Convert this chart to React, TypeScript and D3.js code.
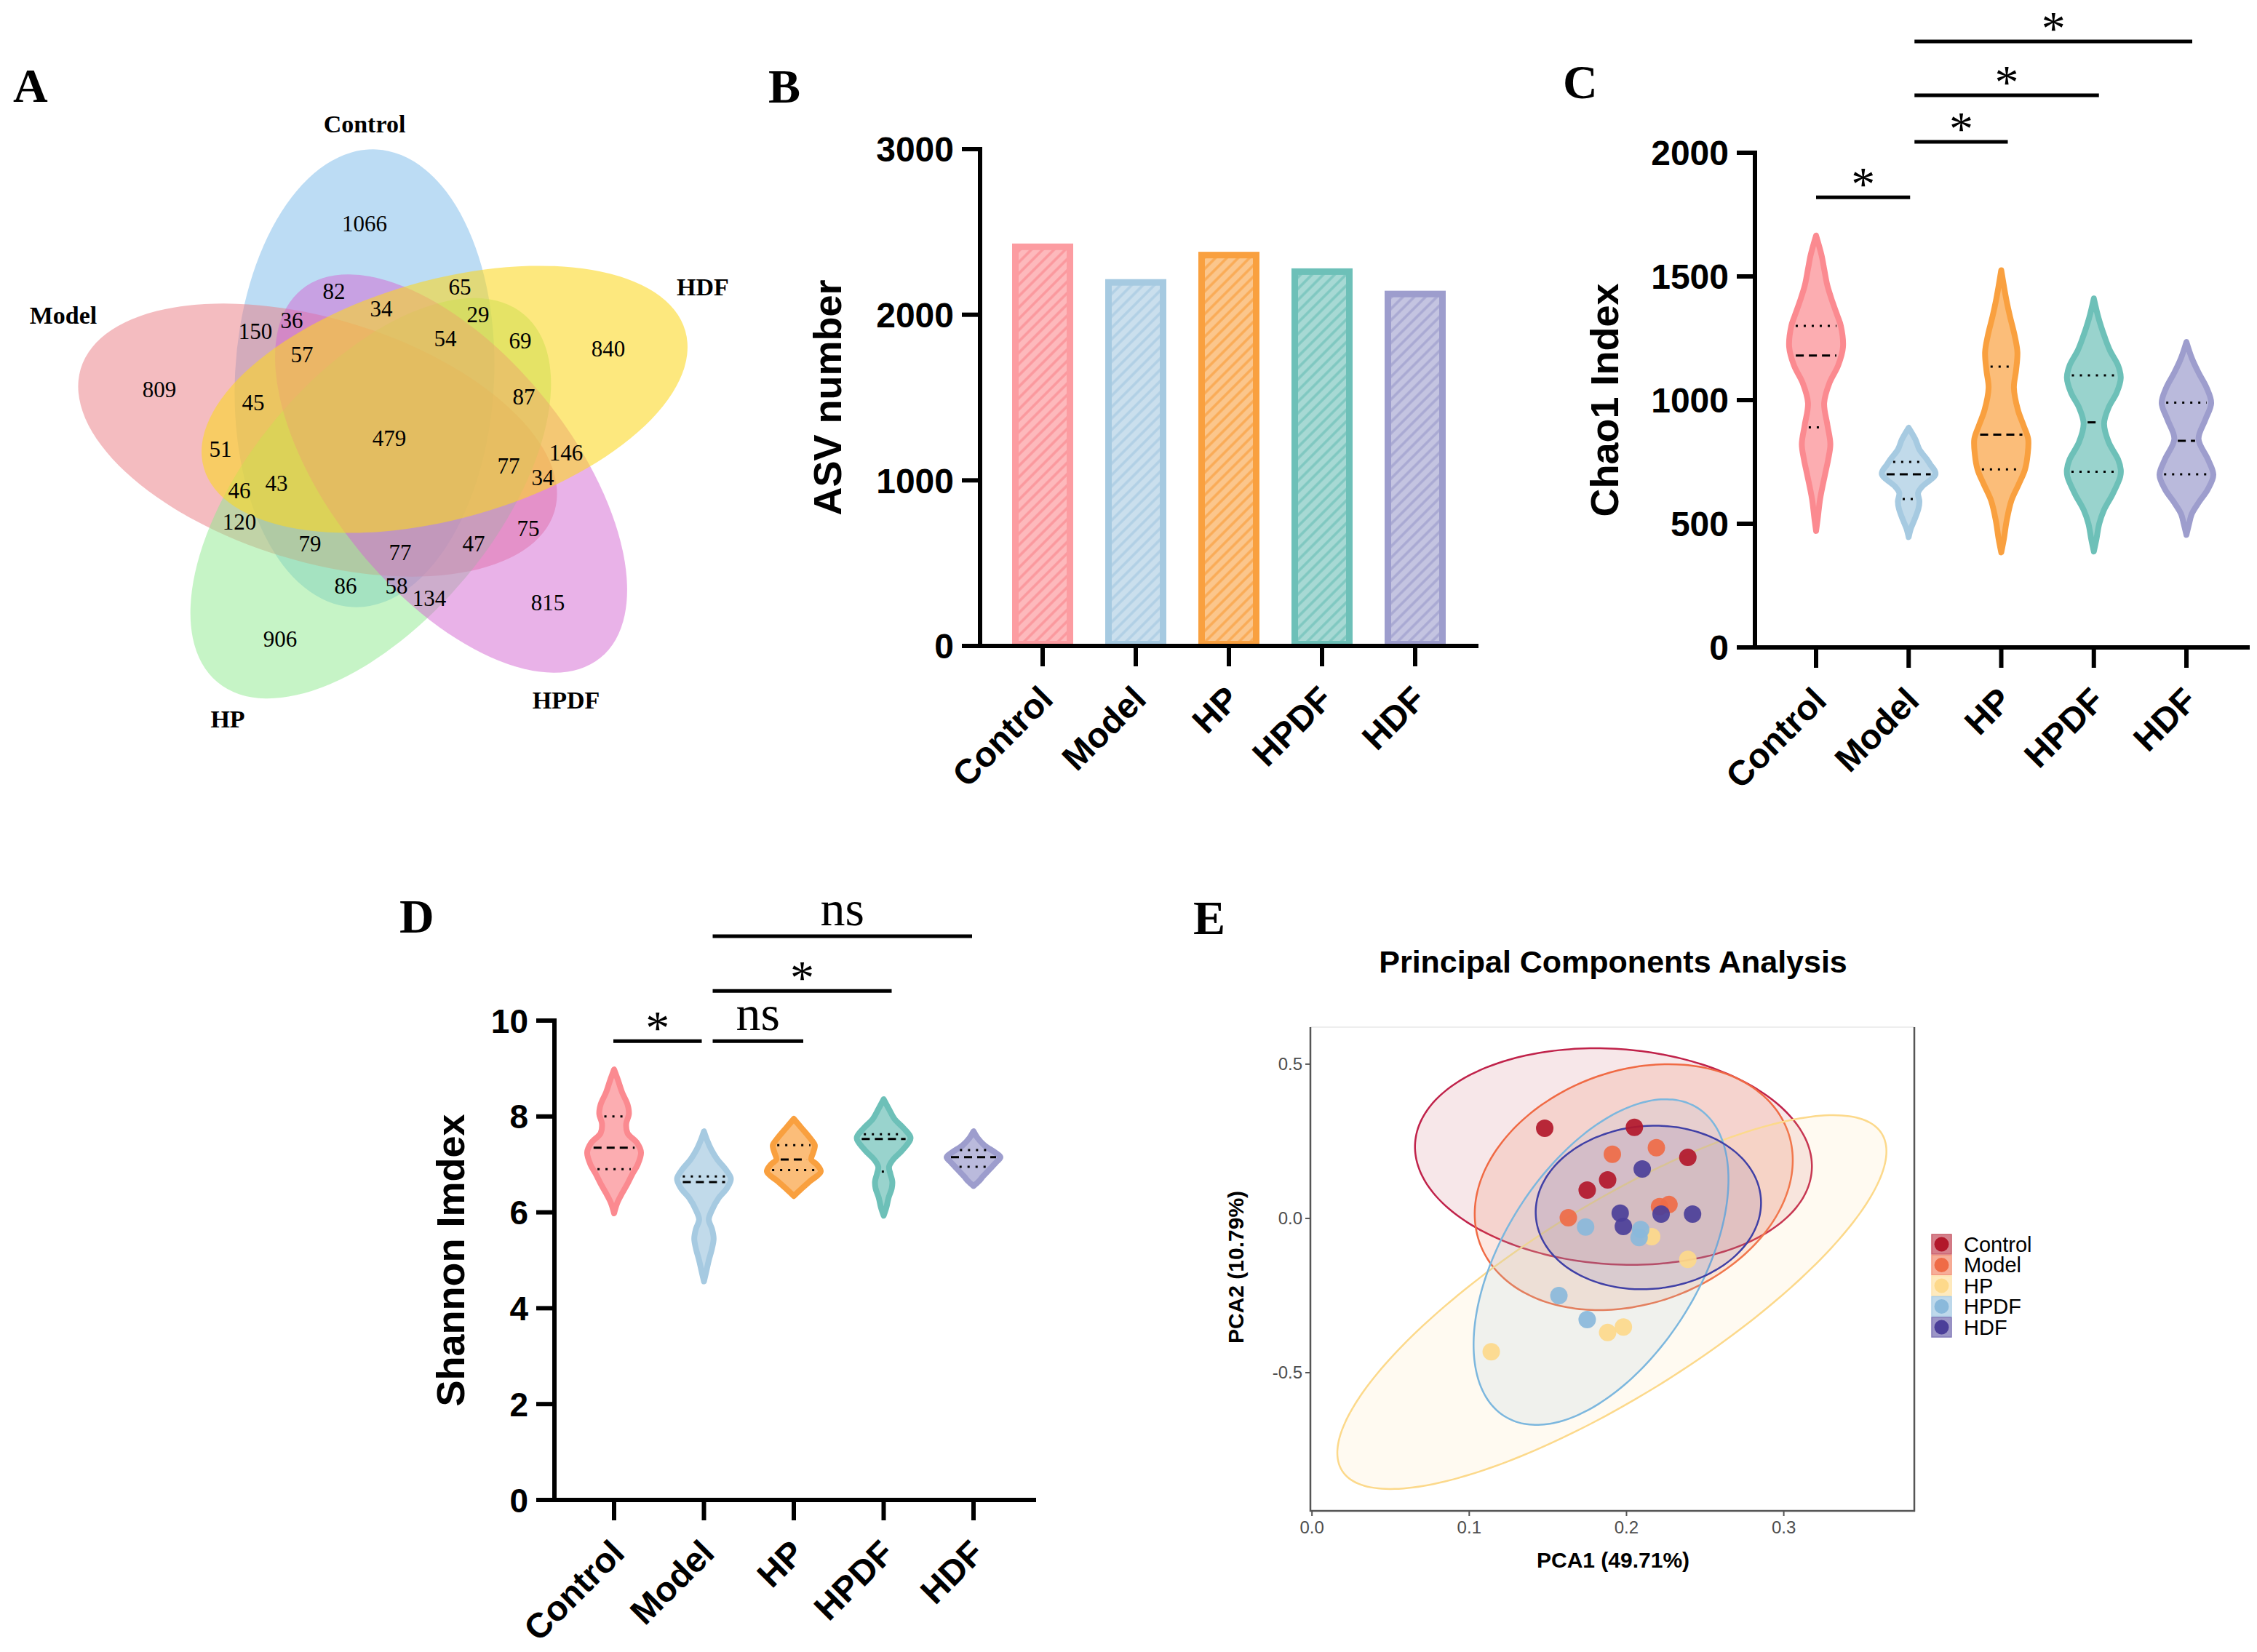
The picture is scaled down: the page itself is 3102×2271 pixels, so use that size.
import React from 'react';
import * as d3 from 'd3';

// ---- data ----
const groups = ['Control', 'Model', 'HP', 'HPDF', 'HDF'];
const groupColors = ['#fb8a90', '#a6cae1', '#f9a03f', '#6dc0b8', '#9d9dcd'];

// A: venn
const vennSets = ['Control', 'Model', 'HP', 'HPDF', 'HDF'];
const vennColors = ['#79b9e9', '#e97981', '#8de98d', '#d365d1', '#fbd721'];
const vennCounts = [1066, 82, 65, 34, 29, 36, 150, 54, 69, 840, 57, 809, 45, 87, 479, 51, 146, 77, 34, 46, 43, 120, 75, 79, 77, 47, 86, 58, 134, 815, 906];

// B: ASV numbers
const asvNumber = [2430, 2215, 2380, 2280, 2145];
const asvTicks = [0, 1000, 2000, 3000];

// C: Chao1 violins, [value, relative half width]
const chao1Profiles = [
  [[471, 0], [520, 0.06], [600, 0.15], [698, 0.33], [760, 0.45], [822, 0.53], [900, 0.42], [988, 0.3], [1070, 0.5], [1140, 0.82], [1215, 1], [1300, 0.92], [1339, 0.8], [1400, 0.6], [1463, 0.42], [1530, 0.3], [1587, 0.2], [1665, 0]],
  [[446, 0], [480, 0.08], [512, 0.2], [560, 0.36], [590, 0.4], [625, 0.35], [650, 0.5], [702, 1], [740, 0.8], [760, 0.68], [800, 0.4], [841, 0.25], [888, 0]],
  [[384, 0], [440, 0.1], [512, 0.2], [595, 0.38], [660, 0.65], [719, 0.88], [780, 0.98], [843, 1], [900, 0.82], [960, 0.62], [1050, 0.47], [1120, 0.55], [1194, 0.6], [1260, 0.5], [1340, 0.32], [1400, 0.2], [1460, 0.1], [1525, 0]],
  [[388, 0], [440, 0.1], [500, 0.2], [554, 0.37], [620, 0.7], [690, 0.98], [719, 1], [760, 0.9], [830, 0.55], [905, 0.38], [970, 0.55], [1030, 0.85], [1090, 1], [1140, 0.9], [1200, 0.6], [1256, 0.4], [1330, 0.18], [1411, 0]],
  [[455, 0], [500, 0.1], [540, 0.2], [585, 0.45], [640, 0.8], [698, 1], [760, 0.8], [843, 0.45], [920, 0.7], [988, 0.92], [1050, 0.75], [1111, 0.45], [1170, 0.2], [1235, 0]],
];
// [Q1, median, Q3]
const chao1Quartiles = [[890, 1180, 1300], [600, 700, 750], [720, 860, 1135], [710, 910, 1100], [700, 835, 990]];
const chao1Ticks = [0, 500, 1000, 1500, 2000];
const chao1Sig = [
  { a: 'Control', b: 'Model', label: '*', level: 1820 },
  { a: 'Model', b: 'HP', label: '*', level: 2044 },
  { a: 'Model', b: 'HPDF', label: '*', level: 2232 },
  { a: 'Model', b: 'HDF', label: '*', level: 2450 },
];

// D: Shannon violins
const shannonProfiles = [
  [[5.98, 0], [6.2, 0.12], [6.4, 0.3], [6.6, 0.5], [6.8, 0.68], [7.0, 0.88], [7.25, 1], [7.45, 0.85], [7.65, 0.5], [7.85, 0.45], [8.05, 0.55], [8.25, 0.5], [8.5, 0.3], [8.75, 0.15], [8.98, 0]],
  [[4.56, 0], [4.8, 0.1], [5.0, 0.18], [5.25, 0.3], [5.45, 0.36], [5.65, 0.3], [5.85, 0.18], [6.05, 0.3], [6.3, 0.55], [6.5, 0.85], [6.7, 1], [6.9, 0.8], [7.1, 0.5], [7.3, 0.28], [7.5, 0.12], [7.69, 0]],
  [[6.34, 0], [6.5, 0.3], [6.65, 0.6], [6.85, 1], [7.0, 0.85], [7.1, 0.65], [7.25, 0.72], [7.4, 0.78], [7.55, 0.6], [7.75, 0.3], [7.95, 0]],
  [[5.93, 0], [6.1, 0.1], [6.3, 0.18], [6.5, 0.3], [6.65, 0.32], [6.8, 0.25], [6.95, 0.2], [7.1, 0.35], [7.3, 0.7], [7.55, 1], [7.75, 0.75], [7.95, 0.4], [8.15, 0.2], [8.36, 0]],
  [[6.55, 0], [6.65, 0.2], [6.75, 0.35], [6.9, 0.6], [7.05, 0.85], [7.15, 1], [7.25, 0.8], [7.4, 0.4], [7.55, 0.15], [7.69, 0]],
];
const shannonQuartiles = [[6.9, 7.35, 8.0], [null, 6.63, 6.75], [6.88, 7.1, 7.4], [6.85, 7.53, 7.63], [6.95, 7.15, 7.3]];
const shannonTicks = [0, 2, 4, 6, 8, 10];
const shannonSig = [
  { a: 'Control', b: 'Model', label: '*', level: 9.57 },
  { a: 'Model', b: 'HP', label: 'ns', level: 9.57 },
  { a: 'Model', b: 'HPDF', label: '*', level: 10.62 },
  { a: 'Model', b: 'HDF', label: 'ns', level: 11.76 },
];

// E: PCA
const pcaColors = ['#b2182b', '#ef6b46', '#fdd98b', '#8ab9db', '#4b3f99'];
const pcaStroke = ['#c0224a', '#f06a44', '#fcd98b', '#7cb7de', '#4040a6'];
const pcaFillOpacity = [0.1, 0.16, 0.12, 0.13, 0.12];
const pcaPoints = [
  [[0.148, 0.292], [0.205, 0.295], [0.239, 0.198], [0.188, 0.125], [0.175, 0.092]],
  [[0.191, 0.208], [0.219, 0.229], [0.221, 0.038], [0.227, 0.045], [0.163, 0.002]],
  [[0.216, -0.059], [0.239, -0.133], [0.188, -0.370], [0.198, -0.352], [0.114, -0.432]],
  [[0.174, -0.028], [0.209, -0.036], [0.208, -0.062], [0.157, -0.250], [0.175, -0.328]],
  [[0.210, 0.160], [0.196, 0.017], [0.198, -0.026], [0.222, 0.014], [0.242, 0.014]],
];
// center, conjugate semi-axis vectors (data units)
const pcaEllipses = [
  { c: [0.1917, 0.2005], u: [0.1261, -0.0449], v: [-0.0048, -0.3481] },
  { c: [0.2046, 0.1014], u: [0.0979, 0.1816], v: [0.0253, -0.3547] },
  { c: [0.1907, -0.2712], u: [0.1716, 0.5462], v: [0.0321, -0.262] },
  { c: [0.1838, -0.1415], u: [0.0613, 0.5], v: [0.053, -0.1689] },
  { c: [0.2139, 0.0354], u: [0.0715, 0.0318], v: [0.0045, -0.2632] },
];
const pcaXTicks = [0, 0.1, 0.2, 0.3];
const pcaYTicks = [-0.5, 0, 0.5];

// ---- layout ----
const SANS = '"Liberation Sans", Arial, Helvetica, sans-serif';
const SERIF = '"Liberation Serif", "Times New Roman", serif';

const vennShapes = [
  { cx: 501, cy: 520, rx: 178, ry: 315, rot: 3 },
  { cx: 436.5, cy: 605, rx: 340, ry: 167, rot: 16.8 },
  { cx: 509.5, cy: 685, rx: 329, ry: 170, rot: -50.2 },
  { cx: 620, cy: 651, rx: 326, ry: 165, rot: 51 },
  { cx: 611, cy: 549, rx: 344, ry: 164, rot: -15.85 },
];
const vennLabelPos = [[501, 170], [87, 433], [313, 988], [778, 962], [966, 394]];
const vennCountPos = [[501, 307], [459, 400], [632, 394], [524, 424], [657, 432], [401, 440], [351, 455], [612, 465], [715, 468], [836, 479], [415, 487], [219, 535], [348, 553], [720, 545], [535, 602], [303, 617], [778, 622], [699, 640], [746, 656], [329, 674], [380, 664], [329, 717], [726, 726], [426, 747], [550, 759], [651, 747], [475, 805], [545, 805], [590, 822], [753, 828], [385, 878]];

const tint = (c: string, t: number) => d3.interpolateRgb(c, '#ffffff')(t);

function widthAt(profile: number[][], v: number) {
  for (let i = 0; i < profile.length - 1; i++) {
    const [v0, w0] = profile[i];
    const [v1, w1] = profile[i + 1];
    if (v >= v0 && v <= v1) return w0 + ((v - v0) / (v1 - v0)) * (w1 - w0);
  }
  return 0;
}

function CatAxes({ x, y, ticks, yAxisX, xEnd, fontSize, title, titleX }: any) {
  const [y0, y1] = y.range();
  return (
    <g>
      <line x1={yAxisX} x2={yAxisX} y1={y1 - 3} y2={y0 + 3} stroke="#000" strokeWidth={6} />
      <line x1={yAxisX - 3} x2={xEnd} y1={y0} y2={y0} stroke="#000" strokeWidth={6} />
      {ticks.map((t: number) => (
        <g key={t}>
          <line x1={yAxisX - 25} x2={yAxisX} y1={y(t)} y2={y(t)} stroke="#000" strokeWidth={6} />
          <text x={yAxisX - 36} y={y(t)} dy="0.36em" textAnchor="end" fontFamily={SANS} fontWeight="bold" fontSize={fontSize}>{t}</text>
        </g>
      ))}
      {groups.map((g) => (
        <g key={g}>
          <line x1={x(g)} x2={x(g)} y1={y0} y2={y0 + 28} stroke="#000" strokeWidth={6} />
          <text transform={`translate(${x(g) + 5},${y0 + 64}) rotate(-45)`} dy="0.35em" textAnchor="end" fontFamily={SANS} fontWeight="bold" fontSize={48}>{g}</text>
        </g>
      ))}
      <text transform={`translate(${titleX},${(y0 + y1) / 2}) rotate(-90)`} dy="0.35em" textAnchor="middle" fontFamily={SANS} fontWeight="bold" fontSize={54}>{title}</text>
    </g>
  );
}

function Violins({ profiles, quartiles, x, y, w }: any) {
  return (
    <g>
      {profiles.map((p: number[][], i: number) => {
        const cx = x(groups[i]);
        const area = d3.area<number[]>()
          .y((d) => y(d[0]))
          .x0((d) => cx - w(d[1]))
          .x1((d) => cx + w(d[1]))
          .curve(d3.curveCatmullRom);
        return (
          <g key={i}>
            <path d={area(p) || ''} fill={tint(groupColors[i], 0.3)} stroke={groupColors[i]} strokeWidth={8} strokeLinejoin="round" />
            {quartiles[i].map((q: number | null, k: number) => {
              if (q == null) return null;
              const hw = w(widthAt(p, q)) - 6;
              if (hw < 2) return null;
              return (
                <line key={k} x1={cx - hw} x2={cx + hw} y1={y(q)} y2={y(q)} stroke="#000" strokeWidth={3}
                  strokeDasharray={k === 1 ? '11 7' : '3 8'} />
              );
            })}
          </g>
        );
      })}
    </g>
  );
}

function SigBars({ sig, x, y, offsets }: any) {
  return (
    <g>
      {sig.map((s: any, i: number) => {
        const x1 = x(s.a) + offsets[i][0];
        const x2 = x(s.b) + offsets[i][1];
        const yy = y(s.level);
        const star = s.label === '*';
        return (
          <g key={i}>
            <line x1={x1} x2={x2} y1={yy} y2={yy} stroke="#000" strokeWidth={5} />
            <text x={(x1 + x2) / 2} y={star ? yy + 4 : yy - 15} textAnchor="middle" fontFamily={SERIF} fontSize={star ? 66 : 68}>{s.label}</text>
          </g>
        );
      })}
    </g>
  );
}

export default function App() {
  // B
  const bY = d3.scaleLinear().domain([0, 3000]).range([888, 205]);
  const bX = d3.scalePoint<string>().domain(groups).range([1433, 1945]);
  const barW = 84;
  // C
  const cY = d3.scaleLinear().domain([0, 2000]).range([890, 210]);
  const cX = d3.scalePoint<string>().domain(groups).range([2496, 3005]);
  const cW = d3.scaleLinear().domain([0, 1]).range([0, 37]);
  // D
  const dY = d3.scaleLinear().domain([0, 10]).range([2062, 1403]);
  const dX = d3.scalePoint<string>().domain(groups).range([844, 1338]);
  const dW = d3.scaleLinear().domain([0, 1]).range([0, 37]);
  // E
  const eX = d3.scaleLinear().domain([-0.001, 0.383]).range([1801, 2631]);
  const eY = d3.scaleLinear().domain([-0.948, 0.62]).range([2077, 1412]);
  const ellipseLine = d3.line<number>()
    .x((t) => 0)
    .y((t) => 0);
  const ellipsePath = (e: any) => {
    const ts = d3.range(0, 361, 3).map((deg) => (deg * Math.PI) / 180);
    const pts = ts.map((t) => [
      eX(e.c[0] + e.u[0] * Math.cos(t) + e.v[0] * Math.sin(t)),
      eY(e.c[1] + e.u[1] * Math.cos(t) + e.v[1] * Math.sin(t)),
    ] as [number, number]);
    return d3.line().curve(d3.curveCardinalClosed)(pts.slice(0, -1)) || '';
  };
  void ellipseLine;

  return (
    <svg width={3102} height={2271} viewBox="0 0 3102 2271" style={{ position: 'absolute', left: 0, top: 0, background: '#fff' }}>
      <rect width={3102} height={2271} fill="#fff" />
      <defs>
        {groupColors.map((c, i) => (
          <pattern key={i} id={`hatch${i}`} patternUnits="userSpaceOnUse" width={11} height={11} patternTransform="rotate(45)">
            <rect width={11} height={11} fill={tint(c, 0.4)} />
            <line x1={2} y1={0} x2={2} y2={11} stroke={tint(c, 0.12)} strokeWidth={3.5} />
          </pattern>
        ))}
      </defs>

      {/* panel letters */}
      <g fontFamily={SERIF} fontWeight="bold" fontSize={66}>
        <text x={18} y={140}>A</text>
        <text x={1056} y={141}>B</text>
        <text x={2148} y={135}>C</text>
        <text x={549} y={1282}>D</text>
        <text x={1640} y={1284}>E</text>
      </g>

      {/* A: venn */}
      <g>
        {vennSets.map((s, i) => {
          const e = vennShapes[i];
          return (
            <ellipse key={s} cx={e.cx} cy={e.cy} rx={e.rx} ry={e.ry} transform={`rotate(${e.rot} ${e.cx} ${e.cy})`}
              fill={vennColors[i]} fillOpacity={i === 4 ? 0.58 : 0.5} />
          );
        })}
        {vennSets.map((s, i) => (
          <text key={s} x={vennLabelPos[i][0]} y={vennLabelPos[i][1]} dy="0.35em" textAnchor="middle" fontFamily={SERIF} fontWeight="bold" fontSize={34}>{s}</text>
        ))}
        {vennCounts.map((n, i) => (
          <text key={i} x={vennCountPos[i][0]} y={vennCountPos[i][1]} dy="0.35em" textAnchor="middle" fontFamily={SERIF} fontSize={31}>{n}</text>
        ))}
      </g>

      {/* B: bars */}
      <g>
        {asvNumber.map((v, i) => (
          <rect key={i} x={bX(groups[i])! - barW / 2 + 4.5} y={bY(v) + 4.5} width={barW - 9} height={bY(0) - bY(v) - 7}
            fill={`url(#hatch${i})`} stroke={tint(groupColors[i], i === 0 ? 0.15 : 0)} strokeWidth={9} />
        ))}
        <CatAxes x={bX} y={bY} ticks={asvTicks} yAxisX={1347} xEnd={2032} fontSize={48} title="ASV number" titleX={1137} />
      </g>

      {/* C: chao1 */}
      <g>
        <Violins profiles={chao1Profiles} quartiles={chao1Quartiles} x={cX} y={cY} w={cW} />
        <CatAxes x={cX} y={cY} ticks={chao1Ticks} yAxisX={2412} xEnd={3092} fontSize={48} title="Chao1 Index" titleX={2205} />
        <SigBars sig={chao1Sig} x={cX} y={cY} offsets={[[0, 2], [8, 9], [8, 7], [8, 8]]} />
      </g>

      {/* D: shannon */}
      <g>
        <Violins profiles={shannonProfiles} quartiles={shannonQuartiles} x={dX} y={dY} w={dW} />
        <CatAxes x={dX} y={dY} ticks={shannonTicks} yAxisX={762} xEnd={1424} fontSize={46} title="Shannon Imdex" titleX={619} />
        <SigBars sig={shannonSig} x={dX} y={dY} offsets={[[-1, -3], [12, 13], [12, 11], [12, -2]]} />
      </g>

      {/* E: PCA */}
      <g>
        <text x={2217} y={1337} textAnchor="middle" fontFamily={SANS} fontWeight="bold" fontSize={43}>Principal Components Analysis</text>
        <line x1={1801} x2={2631} y1={1412} y2={1412} stroke="#eeeeee" strokeWidth={2} />
        {pcaEllipses.map((e, i) => (
          <path key={i} d={ellipsePath(e)} fill={pcaColors[i]} fillOpacity={pcaFillOpacity[i]} stroke={pcaStroke[i]} strokeWidth={2.5} />
        ))}
        {pcaPoints.map((pts, i) => pts.map((p, k) => (
          <circle key={`${i}-${k}`} cx={eX(p[0])} cy={eY(p[1])} r={12} fill={pcaColors[i]} fillOpacity={0.92} />
        )))}
        <line x1={1801} x2={1801} y1={1412} y2={2078} stroke="#555" strokeWidth={2.5} />
        <line x1={2631} x2={2631} y1={1412} y2={2078} stroke="#555" strokeWidth={2.5} />
        <line x1={1800} x2={2632} y1={2077} y2={2077} stroke="#555" strokeWidth={2.5} />
        {pcaXTicks.map((t) => (
          <g key={t}>
            <line x1={eX(t)} x2={eX(t)} y1={2077} y2={2084} stroke="#555" strokeWidth={2} />
            <text x={eX(t)} y={2100} dy="0.35em" textAnchor="middle" fontFamily={SANS} fontSize={24} fill="#4d4d4d">{t.toFixed(1)}</text>
          </g>
        ))}
        {pcaYTicks.map((t) => (
          <g key={t}>
            <line x1={1794} x2={1801} y1={eY(t)} y2={eY(t)} stroke="#555" strokeWidth={2} />
            <text x={1790} y={eY(t)} dy="0.35em" textAnchor="end" fontFamily={SANS} fontSize={24} fill="#4d4d4d">{t.toFixed(1)}</text>
          </g>
        ))}
        <text x={2217} y={2144} dy="0.35em" textAnchor="middle" fontFamily={SANS} fontWeight="bold" fontSize={30}>PCA1 (49.71%)</text>
        <text transform="translate(1698,1742) rotate(-90)" dy="0.35em" textAnchor="middle" fontFamily={SANS} fontWeight="bold" fontSize={30}>PCA2 (10.79%)</text>
        {groups.map((g, i) => {
          const ry = 1697 + i * 28.5;
          return (
            <g key={g}>
              <rect x={2655} y={ry} width={27} height={27} fill={pcaColors[i]} fillOpacity={0.55} stroke={tint(pcaColors[i], 0.3)} strokeWidth={1.5} />
              <circle cx={2668.5} cy={ry + 13.5} r={10} fill={pcaColors[i]} />
              <text x={2699} y={ry + 13.5} dy="0.36em" fontFamily={SANS} fontSize={29}>{g}</text>
            </g>
          );
        })}
      </g>
    </svg>
  );
}
